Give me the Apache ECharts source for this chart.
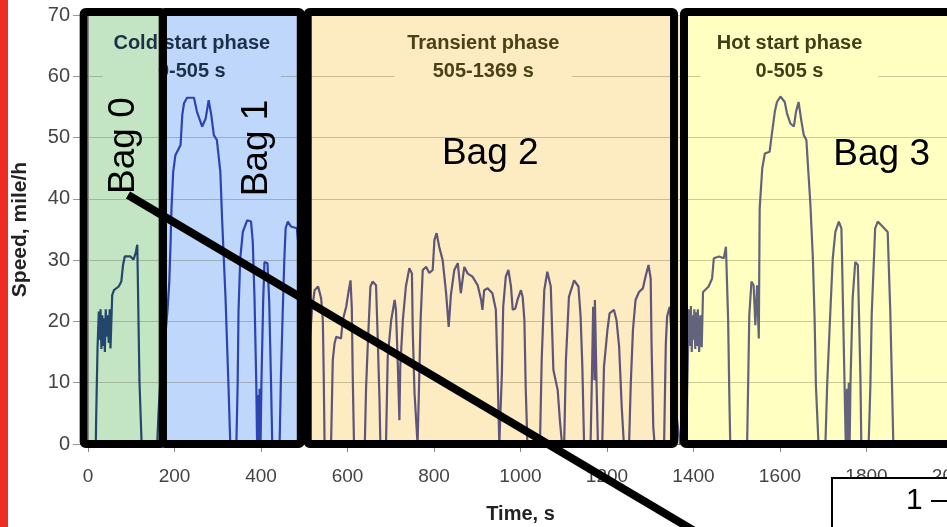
<!DOCTYPE html>
<html>
<head>
<meta charset="utf-8">
<script src="https://cdn.jsdelivr.net/npm/echarts@6/dist/echarts.min.js"></script>
<style>
html, body { margin: 0; padding: 0; background: #fff; }
#chart { width: 947px; height: 527px; }
</style>
</head>
<body>
<div id="chart"></div>
<script>
// FTP-75 speed trace (s, mile/h)
var times = [0,18,19,22,25,27,29,31,33,35,37,39,41,43,45,48,50,52,56,60,71,77,81,85,98,105,110,114,116,119,124,
  160,163,167,172,178,184,188,191,193,197,202,214,218,222,229,245,252,264,272,279,285,291,298,306,310,318,325,329,
  343,346,348,352,358,368,377,381,385,389,391,393,395,397,399,401,405,408,415,419,423,426,
  443,446,450,454,457,462,469,483,490,500,508,513,518,524,532,535,539,543,545,547,
  562,566,570,574,585,589,597,603,607,610,612,615,640,643,647,653,658,666,670,674,676,
  689,693,701,709,712,716,720,722,728,735,743,749,751,755,762,765,769,774,782,789,797,801,806,812,820,828,834,839,
  847,855,862,870,878,889,901,909,912,916,924,935,939,943,947,951,955,957,960,966,972,978,982,988,993,1001,1005,1009,
  1012,1016,1045,1049,1055,1062,1070,1076,1086,1091,1096,1101,1105,1112,1124,1134,1139,1143,1147,
  1162,1165,1168,1171,1172,1176,1179,1189,1193,1201,1206,1216,1222,1228,1234,1239,1251,1255,1260,1266,1274,1283,
  1289,1296,1301,1303,1307,1310,1332,1336,1339,1345,1352,1360,1369,
  1384,1385,1388,1390,1392,1394,1396,1398,1400,1402,1404,1406,1408,1410,1413,1416,1419,1422,1435,1443,1447,1459,
  1470,1475,1480,1483,1485,1524,1526,1529,1534,1539,1543,1547,1551,1553,1559,1565,1576,1582,1588,1593,1601,1611,
  1616,1624,1632,1637,1643,1649,1655,1661,1666,1670,1676,1680,1683,1689,1705,1709,1716,1722,1728,1736,1742,1745,
  1749,1752,1755,1757,1759,1761,1763,1768,1774,1780,1782,1786,1788,1805,1809,1812,1820,1826,1837,1849,1855,1859,
  1862,1874];
var speeds = [0,0,4.7,15.6,21.6,17,22,15.5,21,16,20.5,15,22,17.5,21,16.5,22,15.6,24.3,25.1,25.7,26.5,29.2,30.6,30.6,30.1,31.1,32.5,23.5,10.2,0,
  0,5,10,15,17,22,26.5,33,38.4,44.4,47.1,48.8,53.7,55.6,56.5,56.5,54.2,51.8,53.1,56.1,53.7,50.4,49.6,44.4,36.8,23.8,9.1,0,
  0,9.6,21.6,30.3,34.6,36.5,36.3,33,23.8,10.2,0,8,0,9,0,10,23.2,29.7,29.5,23.2,10.7,0,
  0,10.7,21,30.3,35.2,36.3,35.5,35.2,30,20,12,17,21.9,25.1,25.7,25.9,23.8,20.2,11.5,0,
  0,13.7,16.4,17.5,17.2,20.2,22.4,25.1,26.7,22.1,11.5,0,0,9.3,16.4,25.7,26.5,25.9,17,7.2,0,
  0,14.2,20.2,23.5,21.9,13.7,3.9,12.6,20.2,25.7,28.7,27.8,18,8.3,0,8.3,20.2,28.4,28.9,27.9,28.4,33.3,34.4,32.2,30,24.6,19.1,24.3,
  28.4,29.5,24.6,28.9,27.8,27.3,25.9,23.5,21.9,25.1,25.4,24.6,24.8,21.9,11.5,0,0,11.5,22.4,27.3,28.4,25.7,21.9,22.1,23.5,25.1,24,20.2,
  9.3,0,0,13.7,25.1,28.1,25.7,12.1,8.8,3.9,0,0,13.7,24,26.7,25.7,20.8,12.6,0,
  0,10.4,22.4,10.4,23.5,9.3,0,0,12.6,18.6,21.3,21.9,20.2,15.9,6.1,0,0,9.9,18.6,23.5,24.8,25.4,
  27.3,29.2,27,16.4,2.8,0,0,16.4,20.8,22.4,15,5,0,
  0,7.4,17.2,22,16,22.5,15,21,17,22,15.5,21.5,16,22,15,21,15.8,24.8,25.7,27,30.3,30.6,
  30.3,32.2,20.5,7.2,0,0,8.3,21,26.5,25.9,19.4,25.9,17.2,38.4,45,47.4,47.7,51,54.2,55.8,56.7,55.8,
  54,52.3,51.8,54.2,55.8,52.9,50.4,49.6,43.9,39.5,30.3,20.5,9.6,0,0,9.6,21,30.3,34.6,36.3,35.2,24.8,
  10.7,0,9,0,10,0,10,23.8,29.7,29.2,23.2,10.7,0,0,9.6,21,35.2,36.3,35.5,34.6,21.6,9.6,
  0,0];

// phase shading (s)
var bandEdges = [0, 173, 505, 1369, 2000];
var bandColors = ['#c3e5c3', '#bed7fb', '#fdebc1', '#ffffc1'];
var traceColors = ['#24466c', '#2c43b4', '#5f5479', '#63637b'];

var phaseNames = ['Cold start phase', 'Transient phase', 'Hot start phase'];
var phaseRanges = ['0-505 s', '505-1369 s', '0-505 s'];
var phaseCenters = [240, 914, 1622];
var phaseColors = ['#1c3148', '#4b4119', '#3f4019'];

var bagNames = ['Bag 0', 'Bag 1', 'Bag 2', 'Bag 3'];
var bagEdges = [[-10, 173], [173, 492], [508, 1355], [1378, 2100]];
var bagLabelX = [82, 391, 930, 1835];
var bagLabelY = [48.7, 48.3, 47.4, 47.2];
var bagLabelRot = [90, 90, 0, 0];

var chart = echarts.init(document.getElementById('chart'));
var data = times.map(function (t, i) { return [t, speeds[i]]; });

var areas = [];
for (var i = 0; i < bandColors.length; i++) {
    areas.push([{ xAxis: bandEdges[i], itemStyle: { color: bandColors[i] } }, { xAxis: bandEdges[i + 1] }]);
}

var font = 'Liberation Sans, Arial, sans-serif';

var option = {
    animation: false,
    grid: { left: 88, right: -6, top: 15, bottom: 83, outerBoundsMode: 'none', containLabel: false },
    xAxis: {
        type: 'value', min: 0, max: 2000, interval: 200,
        name: 'Time, s', nameLocation: 'middle', nameGap: 60,
        nameTextStyle: { fontFamily: font, fontSize: 20, fontWeight: 'bold', color: '#222' },
        axisLine: { show: true, lineStyle: { color: '#888' } },
        axisTick: { show: true, length: 8, lineStyle: { color: '#888' } },
        axisLabel: { margin: 23, fontFamily: font, fontSize: 19, color: '#444',
                     formatter: function (v) { return String(v); } },
        splitLine: { show: false }
    },
    yAxis: {
        type: 'value', min: 0, max: 70, interval: 10, z: 3,
        name: 'Speed, mile/h', nameLocation: 'middle', nameGap: 57,
        nameTextStyle: { fontFamily: font, fontSize: 21, fontWeight: 'bold', color: '#222' },
        axisLine: { show: true, lineStyle: { color: '#888' } },
        axisTick: { show: true, length: 15, lineStyle: { color: '#999' } },
        axisLabel: { margin: 18, fontFamily: font, fontSize: 20, color: '#444' },
        splitLine: { show: true, lineStyle: { color: 'rgba(80,80,50,0.3)', width: 1 } }
    },
    visualMap: {
        show: false, type: 'piecewise', dimension: 0, seriesIndex: 1,
        pieces: [
            { lt: bandEdges[1], color: traceColors[0] },
            { gte: bandEdges[1], lt: bandEdges[2], color: traceColors[1] },
            { gte: bandEdges[2], lt: bandEdges[3], color: traceColors[2] },
            { gte: bandEdges[3], color: traceColors[3] }
        ]
    },
    series: [
        {
            type: 'line', z: 1, silent: true, data: [[0, 0]], symbol: 'none',
            lineStyle: { width: 0 },
            markArea: { silent: true, data: areas }
        },
        {
            type: 'line', z: 5, data: data, symbol: 'none',
            lineStyle: { width: 2.2 }
        }
    ]
};
chart.setOption(option);

// annotations on top of the plot
function px(t, v) { return chart.convertToPixel({ gridIndex: 0 }, [t, v]); }
var g = [];

g.push({ type: 'rect', z: 20, shape: { x: 0, y: 0, width: 8, height: 527 }, style: { fill: '#ee2c25' } });

// phase captions with a background that hides the grid line
for (var p = 0; p < phaseNames.length; p++) {
    var c = px(phaseCenters[p], 0)[0];
    var x0 = c - 89, x1 = c + 89;
    for (var b = 0; b < bandColors.length; b++) {
        var l = Math.max(x0, px(bandEdges[b], 0)[0]);
        var r = Math.min(x1, px(bandEdges[b + 1], 0)[0]);
        if (r > l) {
            g.push({ type: 'rect', z: 4, shape: { x: l, y: 30, width: r - l, height: 54 }, style: { fill: bandColors[b] } });
        }
    }
    g.push({
        type: 'text', z: 4.5, x: c, y: 57,
        style: { text: phaseNames[p] + '\n' + phaseRanges[p], fontFamily: font, fontSize: 20, fontWeight: 'bold',
                 lineHeight: 28, fill: phaseColors[p], align: 'center', verticalAlign: 'middle' }
    });
}

// bag boxes
var boxTop = px(0, 70.5)[1], boxBot = px(0, 0)[1];
for (var k = 0; k < bagEdges.length; k++) {
    var a = px(bagEdges[k][0], 0)[0], e = px(bagEdges[k][1], 0)[0];
    g.push({ type: 'rect', z: 10, shape: { x: a, y: boxTop, width: e - a, height: boxBot - boxTop, r: 2 },
             style: { fill: 'none', stroke: '#000', lineWidth: 8 } });
    var pt = px(bagLabelX[k], bagLabelY[k]);
    g.push({ type: 'text', z: 11, x: pt[0], y: pt[1], rotation: bagLabelRot[k] * Math.PI / 180,
             style: { text: bagNames[k], fontFamily: font, fontSize: 37, fill: '#000', align: 'center', verticalAlign: 'middle' } });
}

// callout line and box
g.push({ type: 'line', z: 12, shape: { x1: 128, y1: 195, x2: 740, y2: 558 }, style: { stroke: '#000', lineWidth: 8 } });
g.push({ type: 'rect', z: 12, shape: { x: 832, y: 478, width: 200, height: 100 }, style: { fill: '#fff', stroke: '#000', lineWidth: 2 } });
g.push({ type: 'text', z: 13, x: 906, y: 501, style: { text: '1 \u2013', fontFamily: font, fontSize: 30, fill: '#000', align: 'left', verticalAlign: 'middle' } });

chart.setOption({ graphic: g });
</script>
</body>
</html>
